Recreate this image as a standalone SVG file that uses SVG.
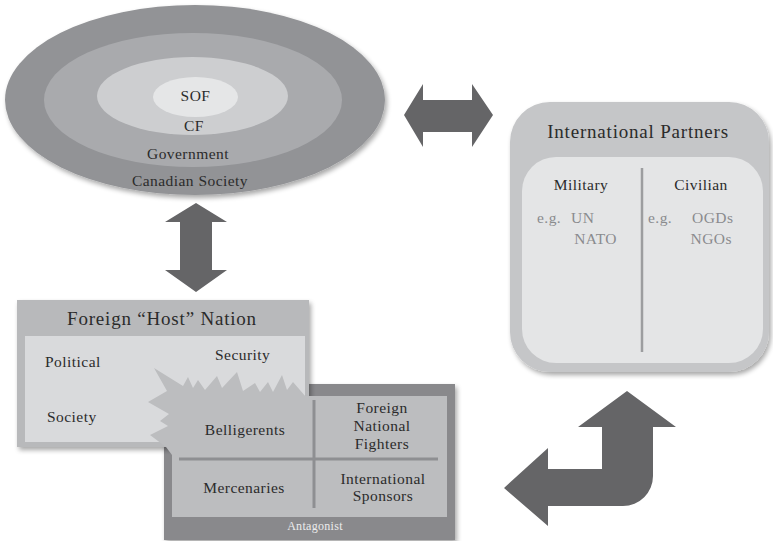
<svg xmlns="http://www.w3.org/2000/svg" width="773" height="541" viewBox="0 0 773 541">
<defs>
<filter id="sh" x="-10%" y="-10%" width="125%" height="130%">
<feGaussianBlur in="SourceAlpha" stdDeviation="2.5"/>
<feOffset dx="2" dy="3" result="b"/>
<feComponentTransfer><feFuncA type="linear" slope="0.35"/></feComponentTransfer>
<feMerge><feMergeNode/><feMergeNode in="SourceGraphic"/></feMerge>
</filter>
<style>
text{font-family:"Liberation Serif","Times New Roman",serif;fill:#2b2b2b;}
.t{font-size:15.5px;letter-spacing:0.45px;}
.h{font-size:19px;letter-spacing:0.8px;}
.g{fill:#8a8b8e;}
.c{text-anchor:middle;}
.e{text-anchor:end;}
.arrow{fill:#656567;}
.div{stroke:#8e8f92;stroke-width:3;}
</style>
</defs>
<rect width="773" height="541" fill="#ffffff"/>

<g id="canada">
<ellipse cx="195" cy="100" rx="190" ry="95" fill="#929396" filter="url(#sh)"/>
<ellipse cx="193" cy="100" rx="149" ry="67" fill="#a9aaad"/>
<ellipse cx="192.5" cy="96" rx="95.5" ry="39" fill="#cdced0"/>
<ellipse cx="195.5" cy="97" rx="42.5" ry="20" fill="#e5e6e7"/>
<text class="t c" x="195.5" y="101">SOF</text>
<text class="t c" x="194" y="131">CF</text>
<text class="t c" x="188" y="159">Government</text>
<text class="t c" x="190" y="186">Canadian Society</text>
</g>

<g id="partners">
<rect x="510" y="102" width="259" height="270" rx="40" fill="#c5c6c8" filter="url(#sh)"/>
<rect x="522" y="157" width="241" height="206" rx="34" fill="#e4e5e6"/>
<line x1="642" y1="168" x2="642" y2="352" stroke="#9c9d9f" stroke-width="2.5"/>
<text class="h c" x="638" y="138">International Partners</text>
<text class="t c" x="581" y="190">Military</text>
<text class="t c" x="701" y="190">Civilian</text>
<text class="t g" x="537" y="223">e.g.</text>
<text class="t g" x="571" y="223">UN</text>
<text class="t g e" x="617" y="244">NATO</text>
<text class="t g" x="648" y="223">e.g.</text>
<text class="t g" x="692" y="223">OGDs</text>
<text class="t g e" x="732" y="244">NGOs</text>
</g>

<g id="antagonist-frame">
<rect x="164" y="384" width="291" height="156" fill="#89898c" filter="url(#sh)"/>
</g>

<g id="host">
<rect x="17" y="300" width="292" height="147" fill="#b8b9bb" filter="url(#sh)"/>
<rect x="25" y="336" width="280" height="106" fill="#d9dadc"/>
<text class="h c" x="162" y="325">Foreign “Host” Nation</text>
<text class="t" x="45" y="367">Political</text>
<text class="t" x="215" y="360">Security</text>
<text class="t" x="47" y="422">Society</text>
</g>

<g id="antagonist">
<polygon fill="#bcbdbf" points="154,368 183,386 188,377 193,388 198,380 205,390 217,376 222,388 237,372 243,391 255,383 260,392 268,382 273,392 282,375 287,390 293,382 306,397 306,455 172,455 166,447 150,435 168,426 160,421 169,414 148,402 167,391"/>
<rect x="172" y="396" width="275" height="121" fill="#bcbdbf"/>
<line class="div" x1="179" y1="459" x2="438" y2="459"/>
<line class="div" x1="314" y1="400" x2="314" y2="508"/>
<text class="t c" x="245" y="435">Belligerents</text>
<text class="t c" x="382" y="413">Foreign</text>
<text class="t c" x="382" y="431">National</text>
<text class="t c" x="382" y="449">Fighters</text>
<text class="t c" x="244" y="493">Mercenaries</text>
<text class="t c" x="383" y="484">International</text>
<text class="t c" x="383" y="501">Sponsors</text>
<text class="c" x="315" y="530" style="font-size:12px;fill:#ececec;letter-spacing:0.3px">Antagonist</text>
</g>

<g id="connectors">
<path class="arrow" d="M404,115 L423,84 L423,100 L472,100 L472,84 L493,115 L472,147 L472,132 L423,132 L423,147 Z"/>
<path class="arrow" d="M196,203 L227,222 L212,222 L212,270 L227,270 L196,292 L165,270 L180,270 L180,222 L165,222 Z"/>
<path class="arrow" d="M627,391 L676,427 L653,427 L653,476 A30,30 0 0 1 623,506 L548,506 L548,526 L504,488 L548,448 L548,469 L602,469 L602,427 L578,427 Z"/>
</g>
</svg>
